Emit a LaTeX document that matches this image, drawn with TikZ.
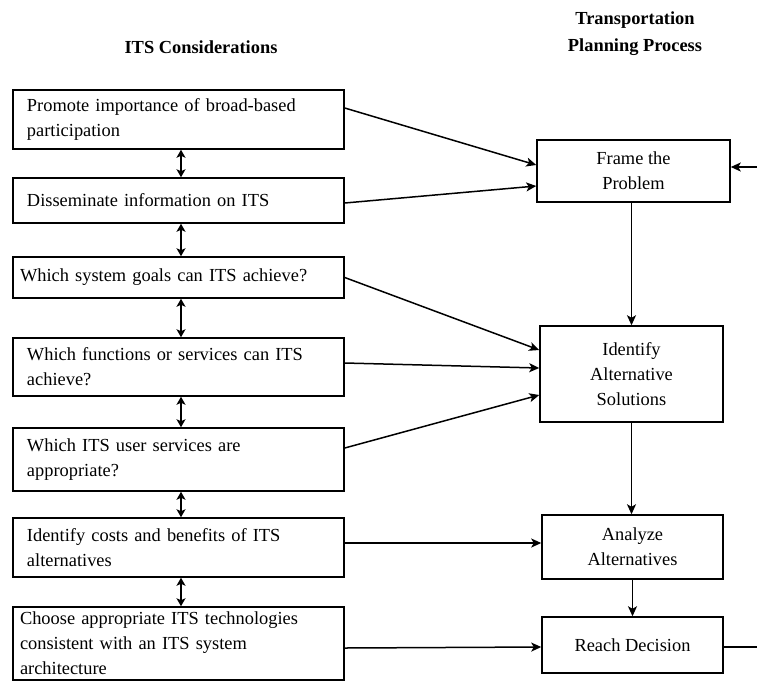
\documentclass[tikz,border=0pt]{standalone}
\usepackage{fontspec}
\setmainfont{Liberation Serif}
\usetikzlibrary{arrows.meta,positioning}
\begin{document}
\begin{tikzpicture}[x=1pt,y=-1pt,
  font=\fontsize{18.4}{25}\selectfont,
  lbox/.style={draw,line width=1.5pt,rectangle,minimum width=331pt,text width=#1,align=left,inner ysep=2pt},
  rbox/.style={draw,line width=1.5pt,rectangle,align=center,inner sep=2pt},
  head/.style={font=\fontsize{18.4}{27}\selectfont\bfseries,align=center},
  arr/.style={line width=1.5pt,-{Stealth[length=10pt,width=9pt,inset=2.5pt]}},
  darr/.style={line width=1.5pt,{Stealth[length=8pt,width=9pt,inset=2pt]}-{Stealth[length=8pt,width=9pt,inset=2pt]}},
  plain/.style={line width=1.5pt}
]
\useasboundingbox (0,0) rectangle (757,681);
% headers
\node[head] (h1) at (201,47) {ITS Considerations};
\node[head] (h2) at (635,34) {Transportation\\Planning Process};
% left boxes
\node[lbox=303pt,minimum height=59pt] (b1) at (178.5,119.5) {Promote importance of broad-based\\participation};
\node[lbox=303pt,minimum height=45pt] (b2) at (178.5,200.5) {Disseminate information on ITS};
\node[lbox=317pt,minimum height=41pt] (b3) at (178.5,277.5) {Which system goals can ITS achieve?};
\node[lbox=303pt,minimum height=58pt] (b4) at (178.5,367) {Which functions or services can ITS\\achieve?};
\node[lbox=303pt,minimum height=63pt] (b5) at (178.5,459.5) {Which ITS user services are\\appropriate?};
\node[lbox=303pt,minimum height=59pt] (b6) at (178.5,547.5) {Identify costs and benefits of ITS\\alternatives};
\node[lbox=317pt,minimum height=73pt] (b7) at (178.5,643.5) {Choose appropriate ITS technologies\\consistent with an ITS system\\architecture};
% right boxes
\node[rbox,minimum width=193pt,minimum height=62pt] (f) at (633.5,171) {Frame the\\Problem};
\node[rbox,minimum width=183pt,minimum height=96pt] (i) at (631.5,374) {Identify\\Alternative\\Solutions};
\node[rbox,minimum width=181pt,minimum height=64pt] (a) at (632.5,547) {Analyze\\Alternatives};
\node[rbox,minimum width=181pt,minimum height=56pt] (r) at (632.5,645) {Reach Decision};
\coordinate (inR) at (757,167);
\coordinate (outR) at (757,647);
% double arrows
\foreach \u/\v in {b1/b2,b2/b3,b3/b4,b4/b5,b5/b6,b6/b7}
  \draw[darr] ([xshift=2.5pt]\u.south) -- ([xshift=2.5pt]\v.north);
% left to right
\draw[arr] ([yshift=11.5pt]b1.east) -- ([yshift=6pt]f.west);
\draw[arr] ([yshift=-2.5pt]b2.east) -- ([yshift=-15pt]f.west);
\draw[arr] (b3.east) -- ([yshift=24pt]i.west);
\draw[arr] ([yshift=4pt]b4.east) -- ([yshift=6pt]i.west);
\draw[arr] ([yshift=11.5pt]b5.east) -- ([yshift=-21pt]i.west);
\draw[arr] ([yshift=4.5pt]b6.east) -- ([yshift=4pt]a.west);
\draw[arr] ([yshift=-4.5pt]b7.east) -- ([yshift=-2pt]r.west);
% right column
\draw[arr] (i.north |- f.south) -- (i.north);
\draw[arr] (i.south) -- (i.south |- a.north);
\draw[arr] (a.south) -- (a.south |- r.north);
\draw[arr] (inR) -- (inR -| f.east);
\draw[plain] (r.east |- outR) -- (outR);
\end{tikzpicture}
\end{document}
